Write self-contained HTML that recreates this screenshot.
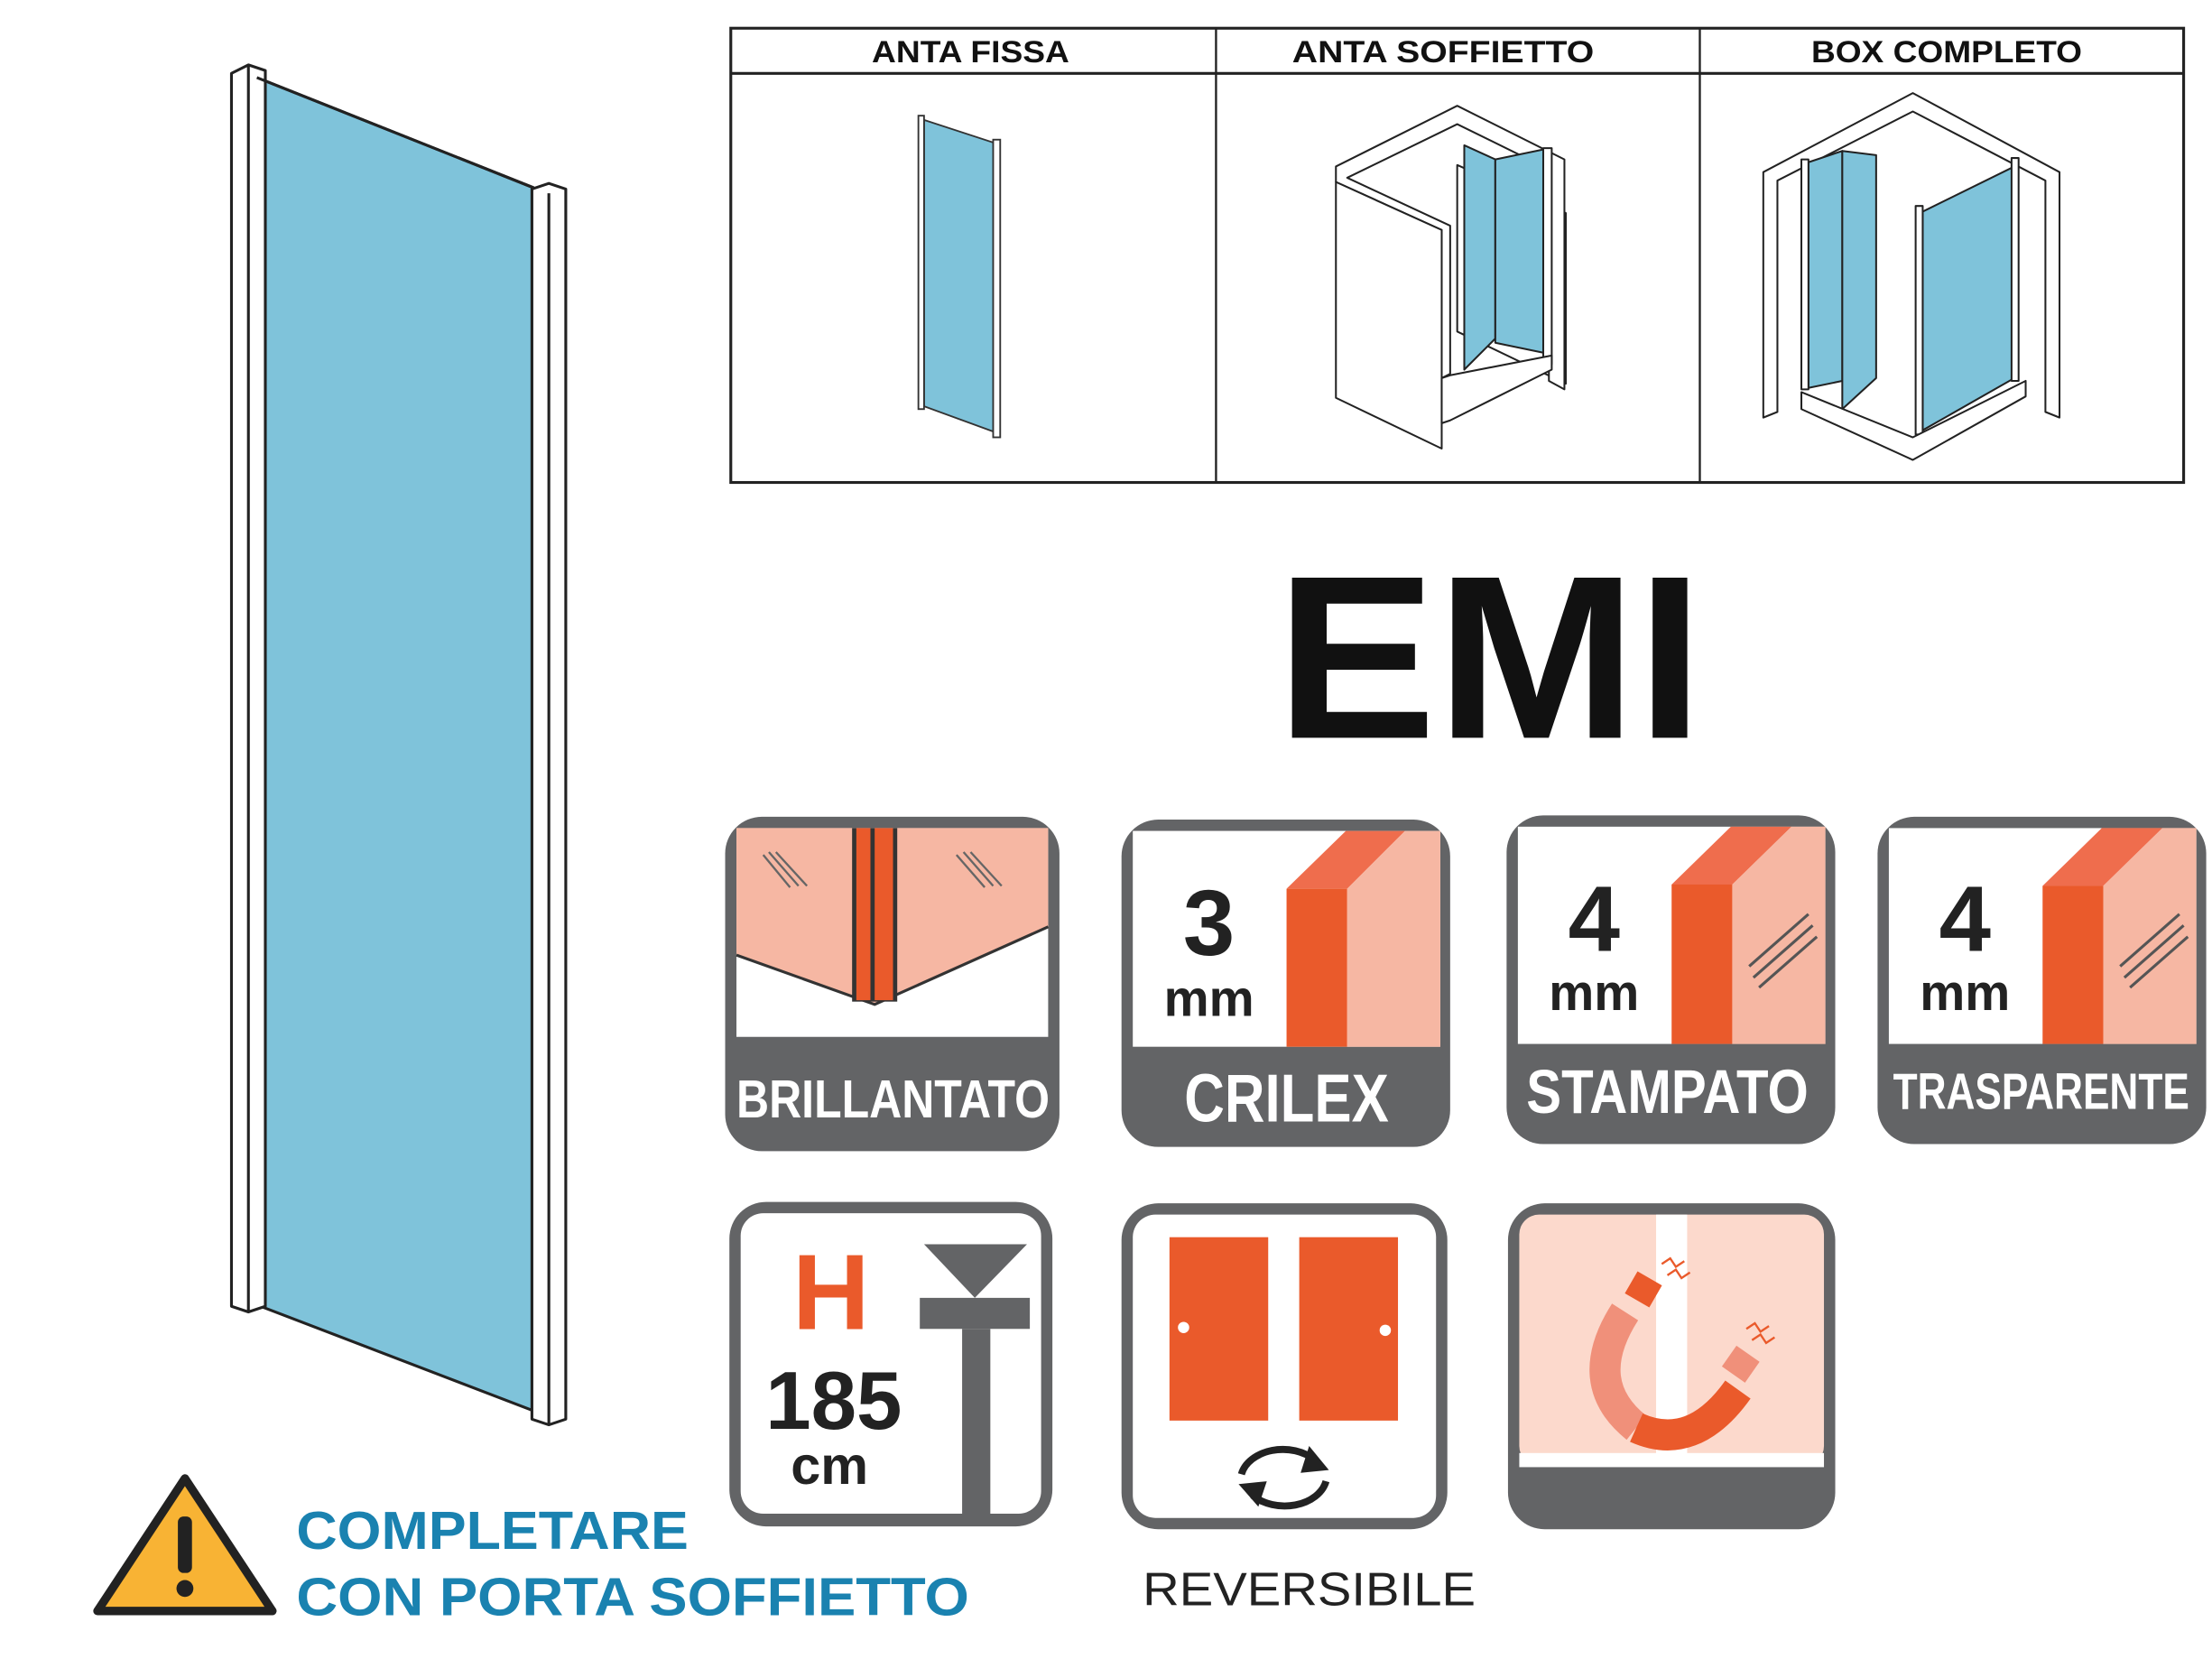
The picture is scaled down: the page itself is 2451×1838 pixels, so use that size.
<!DOCTYPE html>
<html><head><meta charset="utf-8"><style>
html,body{margin:0;padding:0;background:#fff;}
svg{display:block;}
text{font-family:"Liberation Sans",sans-serif;}
</style></head><body>
<svg width="2451" height="1838" viewBox="0 0 1568 1176" xmlns="http://www.w3.org/2000/svg">
<rect width="1568" height="1176" fill="#fff"/>
<!-- left panel -->
<g stroke="#222" stroke-width="2" stroke-linejoin="round">
<polygon points="182,55 378,133 378,1000 182,925" fill="#7fc3da"/>
<polygon points="164,52 176,46 188,50 188,926 176,930 164,926" fill="#fff"/>
<line x1="176" y1="46" x2="176" y2="930"/>
<polygon points="377,134 389,130 401,134 401,1006 389,1010 377,1006" fill="#fff"/>
<line x1="389" y1="137" x2="389" y2="1010"/>
<line x1="182" y1="55" x2="378" y2="133"/>
</g>
<!-- table -->
<g stroke="#222" fill="none">
<rect x="518" y="20" width="1030" height="322" stroke-width="2"/>
<line x1="518" y1="52" x2="1548" y2="52" stroke-width="2"/>
<line x1="862" y1="20" x2="862" y2="342" stroke-width="1.5"/>
<line x1="1205" y1="20" x2="1205" y2="342" stroke-width="1.5"/>
</g>
<g font-weight="bold" font-size="22" fill="#111" text-anchor="middle">
<text x="688" y="44" textLength="140" lengthAdjust="spacingAndGlyphs">ANTA FISSA</text>
<text x="1023" y="44" textLength="214" lengthAdjust="spacingAndGlyphs">ANTA SOFFIETTO</text>
<text x="1380" y="44" textLength="192" lengthAdjust="spacingAndGlyphs">BOX COMPLETO</text>
</g>
<!-- anta fissa -->
<g stroke="#333" stroke-width="1.2">
<polygon points="655,85 707,102 707,307 655,288" fill="#7fc3da"/>
<rect x="651" y="82" width="4" height="208" fill="#fff"/>
<rect x="704" y="99" width="5" height="211" fill="#fff"/>
</g>
<!-- anta soffietto -->
<g stroke="#222" stroke-width="1.3" fill="#fff" stroke-linejoin="round">
<polygon points="1033,117 1110,151 1110,272 1033,235"/>
<polygon points="947,118 1033,75 1109,113 1109,276 1098,270 1098,120 1033,88 955,126 1028,160 1028,265 1022,268 1022,163 947,129"/>
<polygon points="947,129 1022,163 1022,318 947,282"/>
<polygon points="1038,103 1060,113 1060,240 1038,262" fill="#7fc3da"/>
<polygon points="1060,113 1094,106 1094,250 1060,243" fill="#7fc3da"/>
<polygon points="1094,105 1100,105 1100,258 1094,258"/>
<polygon points="1022,268 1028,266 1100,252 1100,262 1028,298 1022,300"/>
</g>
<!-- box completo -->
<g stroke="#222" stroke-width="1.3" fill="#fff" stroke-linejoin="round">
<polygon points="1356,66 1460,122 1460,296 1450,292 1450,128 1356,79 1260,128 1260,292 1250,296 1250,122"/>
<polygon points="1282,115 1306,107 1306,270 1282,275" fill="#7fc3da"/>
<polygon points="1306,107 1330,110 1330,268 1306,290" fill="#7fc3da"/>
<polygon points="1363,150 1428,118 1428,268 1363,305" fill="#7fc3da"/>
<rect x="1277" y="113" width="5" height="163"/>
<rect x="1358" y="146" width="5" height="162"/>
<rect x="1426" y="112" width="5" height="158"/>
<polygon points="1277,278 1356,310 1436,270 1436,281 1356,326 1277,290"/>
</g>
<!-- EMI -->
<text x="1056" y="523" font-size="165" font-weight="bold" fill="#111" text-anchor="middle" textLength="303" lengthAdjust="spacingAndGlyphs">EMI</text>
<!-- icon 1 brillantato -->
<g>
<rect x="514" y="579" width="237" height="237" rx="26" fill="#636466"/>
<rect x="522" y="587" width="221" height="148" fill="#fff"/>
<polygon points="522,587 743,587 743,657 620,712 522,677" fill="#f6b7a3"/>
<polyline points="522,677 620,712 743,657" fill="none" stroke="#333" stroke-width="2"/>
<rect x="604" y="587" width="32" height="123" fill="#333"/>
<rect x="607" y="587" width="10" height="122" fill="#ea5a2b"/>
<rect x="620" y="587" width="13" height="122" fill="#ea5a2b"/>
<g stroke="#666" stroke-width="1.5"><line x1="541" y1="606" x2="560" y2="629"/><line x1="545" y1="604" x2="566" y2="628"/><line x1="550" y1="604" x2="572" y2="628"/>
<line x1="678" y1="606" x2="698" y2="629"/><line x1="683" y1="604" x2="704" y2="628"/><line x1="688" y1="604" x2="710" y2="628"/></g>
<text x="633" y="792" font-size="38" font-weight="bold" fill="#fff" text-anchor="middle" textLength="222" lengthAdjust="spacingAndGlyphs">BRILLANTATO</text>
</g>
<!-- icon 2 crilex -->
<g>
<rect x="795" y="581" width="233" height="232" rx="26" fill="#636466"/>
<rect x="803" y="589" width="218" height="153" fill="#fff"/>
<polygon points="912,630 955,630 996,589 954,589" fill="#ef6d4d"/>
<rect x="912" y="630" width="43" height="112" fill="#ea5a2b"/>
<polygon points="955,630 996,589 1021,589 1021,742 955,742" fill="#f6b7a3"/>
<text x="857" y="677" font-size="66" font-weight="bold" fill="#222" text-anchor="middle">3</text>
<text x="857" y="720" font-size="36" font-weight="bold" fill="#222" text-anchor="middle">mm</text>
<text x="912" y="795" font-size="48" font-weight="bold" fill="#fff" text-anchor="middle" textLength="145" lengthAdjust="spacingAndGlyphs">CRILEX</text>
</g>
<!-- icon 3 stampato -->
<g>
<rect x="1068" y="578" width="233" height="233" rx="26" fill="#636466"/>
<rect x="1076" y="586" width="218" height="154" fill="#fff"/>
<polygon points="1185,627 1228,627 1270,586 1227,586" fill="#ef6d4d"/>
<rect x="1185" y="627" width="43" height="113" fill="#ea5a2b"/>
<polygon points="1228,627 1270,586 1294,586 1294,740 1228,740" fill="#f6b7a3"/>
<g stroke="#555" stroke-width="2"><line x1="1240" y1="685" x2="1282" y2="648"/><line x1="1243" y1="693" x2="1285" y2="656"/><line x1="1247" y1="700" x2="1288" y2="664"/></g>
<text x="1130" y="674" font-size="66" font-weight="bold" fill="#222" text-anchor="middle">4</text>
<text x="1130" y="716" font-size="36" font-weight="bold" fill="#222" text-anchor="middle">mm</text>
<text x="1182" y="789" font-size="44" font-weight="bold" fill="#fff" text-anchor="middle" textLength="200" lengthAdjust="spacingAndGlyphs">STAMPATO</text>
</g>
<!-- icon 4 trasparente -->
<g>
<rect x="1331" y="579" width="233" height="232" rx="26" fill="#636466"/>
<rect x="1339" y="587" width="218" height="153" fill="#fff"/>
<polygon points="1448,628 1491,628 1533,587 1490,587" fill="#ef6d4d"/>
<rect x="1448" y="628" width="43" height="112" fill="#ea5a2b"/>
<polygon points="1491,628 1533,587 1557,587 1557,740 1491,740" fill="#f6b7a3"/>
<g stroke="#555" stroke-width="2"><line x1="1503" y1="685" x2="1545" y2="648"/><line x1="1506" y1="693" x2="1548" y2="656"/><line x1="1510" y1="700" x2="1551" y2="664"/></g>
<text x="1393" y="674" font-size="66" font-weight="bold" fill="#222" text-anchor="middle">4</text>
<text x="1393" y="716" font-size="36" font-weight="bold" fill="#222" text-anchor="middle">mm</text>
<text x="1447" y="786" font-size="36" font-weight="bold" fill="#fff" text-anchor="middle" textLength="210" lengthAdjust="spacingAndGlyphs">TRASPARENTE</text>
</g>
<!-- icon 5 height -->
<g>
<rect x="517" y="852" width="229" height="230" rx="26" fill="#636466"/>
<rect x="525" y="860" width="213" height="213" rx="16" fill="#fff"/>
<text x="589" y="942" font-size="76" font-weight="bold" fill="#ea5a2b" text-anchor="middle">H</text>
<text x="591" y="1013" font-size="58" font-weight="bold" fill="#222" text-anchor="middle">185</text>
<text x="588" y="1052" font-size="38" font-weight="bold" fill="#222" text-anchor="middle">cm</text>
<polygon points="655,882 728,882 691,920" fill="#636466"/>
<rect x="652" y="920" width="78" height="22" fill="#636466"/>
<rect x="682" y="942" width="20" height="135" fill="#636466"/>
</g>
<!-- icon 6 reversibile -->
<g>
<rect x="795" y="853" width="231" height="231" rx="26" fill="#636466"/>
<rect x="803" y="861" width="215" height="215" rx="16" fill="#fff"/>
<rect x="829" y="877" width="70" height="130" fill="#ea5a2b"/>
<rect x="921" y="877" width="70" height="130" fill="#ea5a2b"/>
<circle cx="839" cy="941" r="4" fill="#fff"/><circle cx="982" cy="943" r="4" fill="#fff"/>
<path d="M880,1045 A30,22 0 0 1 932,1035" fill="none" stroke="#222" stroke-width="5"/>
<polygon points="928,1025 942,1042 922,1044" fill="#222"/>
<path d="M940,1050 A30,22 0 0 1 888,1060" fill="none" stroke="#222" stroke-width="5"/>
<polygon points="892,1068 878,1052 898,1050" fill="#222"/>
</g>
<text x="928" y="1138" font-size="33" fill="#222" text-anchor="middle" textLength="236" lengthAdjust="spacingAndGlyphs">REVERSIBILE</text>
<!-- icon 7 magnet -->
<g>
<rect x="1069" y="853" width="232" height="231" rx="26" fill="#636466"/>
<rect x="1077" y="861" width="216" height="178" rx="14" fill="#fcd9cc"/>
<rect x="1077" y="1030" width="216" height="10" fill="#fff"/>
<rect x="1174" y="861" width="22" height="172" fill="#fff"/>
<path d="M1152,930 Q1120,980 1160,1012" fill="none" stroke="#f0907a" stroke-width="22"/>
<path d="M1160,1012 Q1200,1030 1232,985" fill="none" stroke="#ea5a2b" stroke-width="22"/>
<rect x="1155" y="905" width="20" height="18" fill="#ea5a2b" transform="rotate(30 1165 914)"/>
<rect x="1224" y="958" width="20" height="18" fill="#f0907a" transform="rotate(35 1234 967)"/>
<path d="M1178,896 l6,-4 l4,6 l6,-4 M1182,904 l6,-4 l4,6 l6,-4" fill="none" stroke="#ea5a2b" stroke-width="1.5"/>
<path d="M1238,942 l6,-4 l4,6 l6,-4 M1242,950 l6,-4 l4,6 l6,-4" fill="none" stroke="#ea5a2b" stroke-width="1.5"/>
</g>
<!-- warning -->
<polygon points="131,1048 193,1142 69,1142" fill="#f8b334" stroke="#222" stroke-width="6" stroke-linejoin="round"/>
<rect x="126" y="1075" width="10" height="40" rx="4" fill="#222"/>
<circle cx="131" cy="1126" r="6" fill="#222"/>
<g font-weight="bold" font-size="38" fill="#1a82b0">
<text x="210" y="1098" textLength="278" lengthAdjust="spacingAndGlyphs">COMPLETARE</text>
<text x="210" y="1145" textLength="477" lengthAdjust="spacingAndGlyphs">CON PORTA SOFFIETTO</text>
</g>
</svg>
</body></html>
